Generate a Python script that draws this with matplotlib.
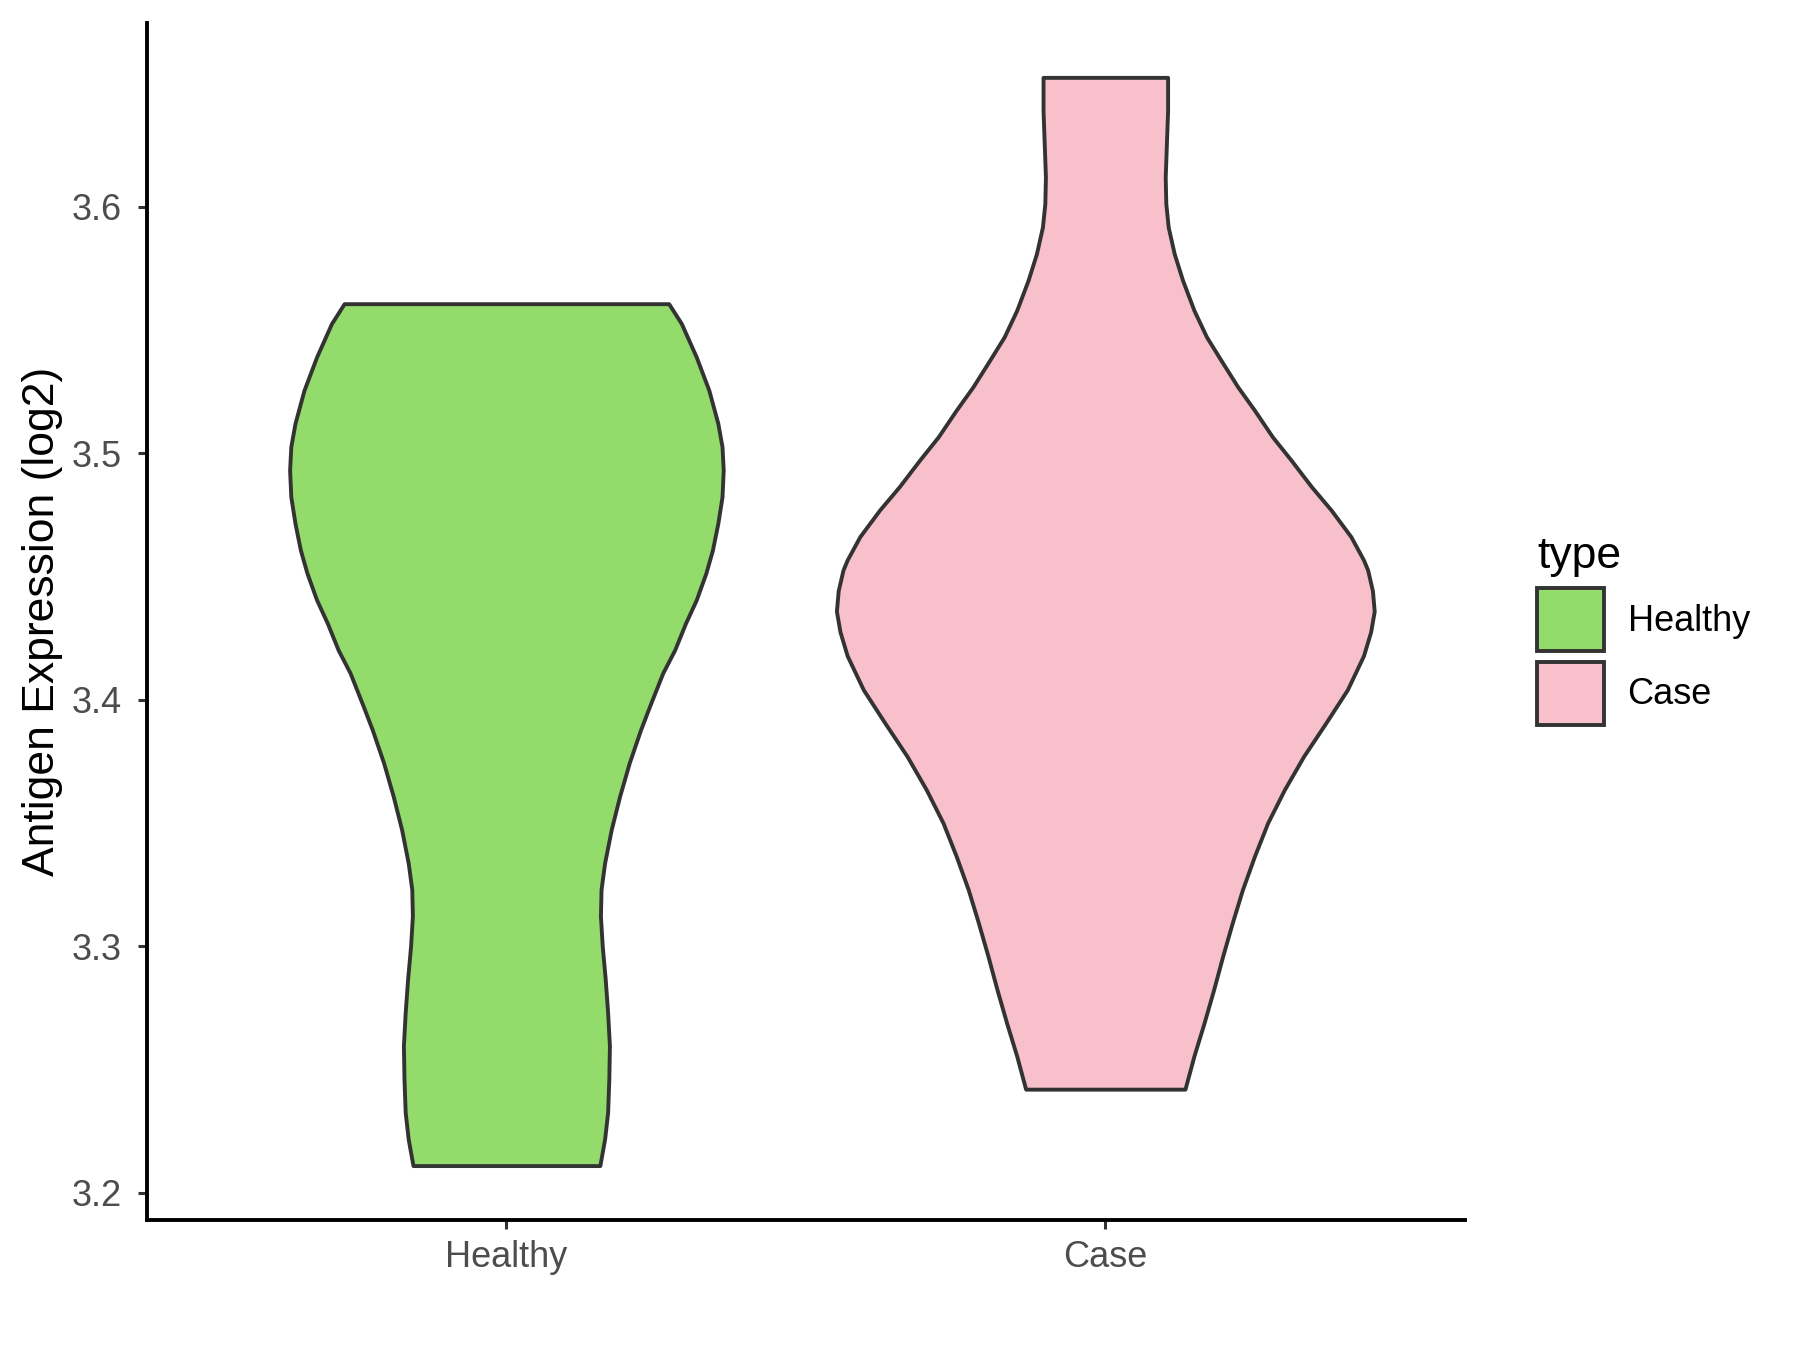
import matplotlib
matplotlib.use("Agg")
import matplotlib.pyplot as plt
from matplotlib.patches import Patch

plt.rcParams['font.family'] = ['Liberation Sans', 'DejaVu Sans']

# groups and fill colours
groups = ["Healthy", "Case"]
colors = ["#93DB6B", "#F7C0CB"]

# violin outlines: expression value -> half width (x units)
healthy_y = [3.2111, 3.2219, 3.2327, 3.2462, 3.2597, 3.2732, 3.2867, 3.3002,
             3.3123, 3.3231, 3.3339, 3.3474, 3.3609, 3.3744, 3.3879, 3.3974,
             3.4109, 3.4203, 3.4311, 3.4406, 3.4514, 3.4608, 3.4716, 3.4824,
             3.4932, 3.5027, 3.5122, 3.5256, 3.5391, 3.5527, 3.5607]
healthy_w = [0.156, 0.164, 0.169, 0.171, 0.172, 0.169, 0.165, 0.160,
             0.157, 0.158, 0.164, 0.175, 0.189, 0.205, 0.224, 0.239,
             0.261, 0.281, 0.299, 0.317, 0.333, 0.344, 0.353, 0.360,
             0.362, 0.360, 0.353, 0.338, 0.317, 0.292, 0.271]

case_y = [3.2421, 3.2556, 3.2691, 3.2826, 3.2961, 3.3096, 3.3231, 3.3366,
          3.3501, 3.3636, 3.3771, 3.3906, 3.4041, 3.4179, 3.4276, 3.4360,
          3.4443, 3.4527, 3.4568, 3.4662, 3.4770, 3.4865, 3.4973, 3.5067,
          3.5175, 3.5270, 3.5378, 3.5472, 3.5580, 3.5702, 3.5810, 3.5918,
          3.6013, 3.6120, 3.6256, 3.6390, 3.6525]
case_w = [0.133, 0.148, 0.165, 0.181, 0.196, 0.212, 0.229, 0.249,
          0.271, 0.299, 0.331, 0.368, 0.404, 0.431, 0.443, 0.449,
          0.446, 0.438, 0.431, 0.410, 0.377, 0.344, 0.310, 0.279,
          0.249, 0.221, 0.193, 0.169, 0.148, 0.129, 0.115, 0.105,
          0.101, 0.100, 0.102, 0.104, 0.104]

profiles = [(healthy_y, healthy_w), (case_y, case_w)]

fig = plt.figure(figsize=(9, 6.75), dpi=200)
ax = fig.add_axes([0.0817, 0.0963, 0.732, 0.8867])

for i, (ys, ws) in enumerate(profiles):
    pos = i + 1
    left = [pos - w for w in ws]
    right = [pos + w for w in ws]
    ax.fill_betweenx(ys, left, right, facecolor=colors[i], edgecolor="#333333",
                     linewidth=1.4, joinstyle="round", zorder=2)

lo = min(min(healthy_y), min(case_y))
hi = max(max(healthy_y), max(case_y))
rng = hi - lo
ax.set_ylim(lo - 0.05 * rng, hi + 0.05 * rng)
ax.set_xlim(0.4, 2.6)

ax.set_xticks([1, 2])
ax.set_xticklabels(groups)
ax.set_yticks([3.2, 3.3, 3.4, 3.5, 3.6])
ax.set_yticklabels(["3.2", "3.3", "3.4", "3.5", "3.6"])
ax.tick_params(axis="both", colors="#333333", labelcolor="#4D4D4D",
               labelsize=13, length=3.2, width=1.1)
ax.tick_params(axis="y", pad=6)
ax.tick_params(axis="x", pad=4)

for s in ["top", "right"]:
    ax.spines[s].set_visible(False)
for s in ["left", "bottom"]:
    ax.spines[s].set_color("black")
    ax.spines[s].set_linewidth(1.4)

ax.set_ylabel("Antigen Expression (log2)", fontsize=16, color="black", labelpad=3)

handles = [Patch(facecolor=colors[i], edgecolor="#333333", linewidth=1.4, label=groups[i])
           for i in range(2)]
leg = fig.legend(handles=handles, title="type", loc="center left",
                 bbox_to_anchor=(0.844, 0.533), frameon=False, fontsize=13,
                 title_fontsize=16, handlelength=1.85, handleheight=2.3,
                 labelspacing=0.3, handletextpad=0.65, alignment="left",
                 borderpad=0)

fig.savefig("out.png", dpi=200)
